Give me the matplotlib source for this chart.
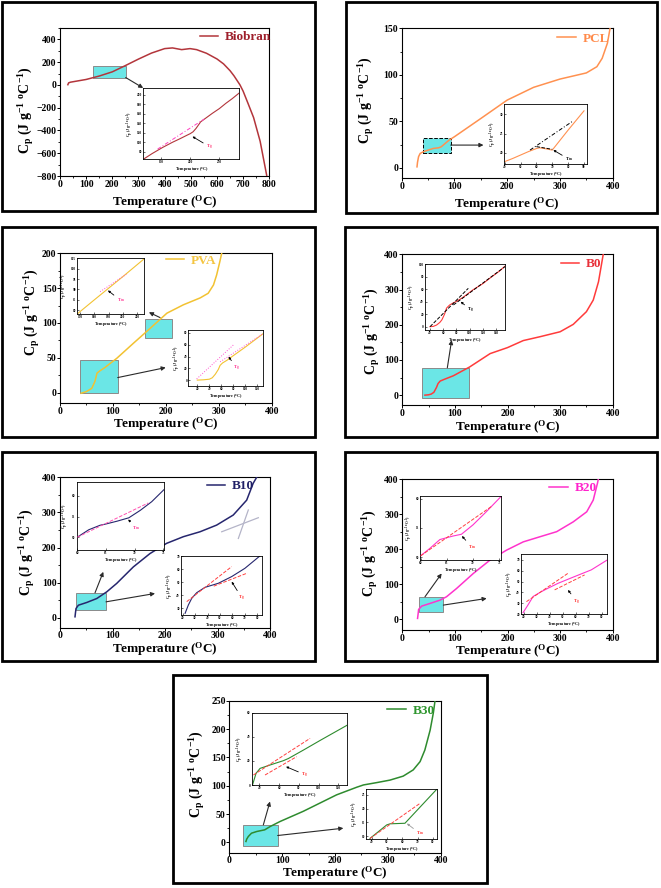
import matplotlib
matplotlib.use('Agg')
import matplotlib.pyplot as plt
from matplotlib.patches import Rectangle
from matplotlib.ticker import AutoMinorLocator

# ------------------------------------------------------------------ data
# Biobran
biobran_T = [30, 33, 40, 60, 100, 150, 200, 250, 300, 350, 400, 430, 465, 497, 522, 560,
             600, 625, 650, 665, 688, 700, 720, 740, 765, 790]
biobran_Cp = [2, 18, 24, 32, 48, 78, 115, 170, 227, 280, 319, 325, 310, 319, 310, 278,
              228, 185, 125, 80, 0, -55, -170, -287, -495, -794]
bio_in_T = [120, 135, 153, 170, 182, 195, 200, 205, 210, 218, 228, 238, 250, 261, 272, 284]
bio_in_Cp = [64, 76, 89, 100, 107, 115, 118, 122, 129, 143, 152, 161, 171, 182, 192, 204]
bio_tan_T = [144.5, 224]
bio_tan_Cp = [85.6, 148.8]

# PCL
pcl_T = [29, 30, 32, 35, 41, 50, 60, 70, 75, 90, 100, 150, 200, 250, 300, 350, 370, 380, 390, 395]
pcl_Cp = [1, 6, 12, 15.4, 17.2, 19, 20.8, 21.5, 22.6, 29.8, 33.4, 53, 72.8, 86.5, 95.4, 102,
          108.7, 117.7, 134, 150]
pcl_in_T = [40, 45, 50, 55, 60, 62, 65, 70, 75, 80, 85, 90]
pcl_in_Cp = [17.7, 18.5, 19.4, 20.3, 21.1, 21.3, 21.1, 20.7, 23.3, 25.9, 28.4, 30.9]
pcl_tan_T = [56, 82.5]
pcl_tan_Cp = [20.7, 28.1]
pcl_tan2_T = [60, 70]
pcl_tan2_Cp = [21.6, 20.9]

# PVA
pva_T = [40, 50, 60, 66, 70, 75, 85, 95, 107, 139, 170, 202, 233, 265, 280, 290, 296, 302, 305.5]
pva_Cp = [-1, 1.4, 6, 16, 28, 31, 36, 42, 49, 71, 92, 114, 126, 136, 142.6, 154.5, 169, 188, 200]
pva_inA_T = [168, 180, 190, 200, 215]
pva_inA_Cp = [78.2, 85, 90.6, 96.2, 104.8]
pva_tanA_T = [184, 202.4]
pva_tanA_Cp = [88.9, 97.3]
pva_inB_T = [20, 30, 40, 45, 50, 55, 58, 62, 70, 80, 100, 130]
pva_inB_Cp = [0, 0.5, 1.5, 4, 10, 18, 25, 29, 34, 41.5, 56, 79]
pva_tanB1_T = [18.9, 80]
pva_tanB1_Cp = [1.9, 59.5]
pva_tanB2_T = [58, 130]
pva_tanB2_Cp = [31, 79]

# B0
b0_T = [43, 50, 55, 60, 65, 68, 72, 80, 97, 128, 167, 200, 230, 262, 300, 325, 350, 363, 373, 382]
b0_Cp = [0, 1, 3, 8, 22, 33, 40, 45, 55, 80, 118, 135, 155, 166, 180, 201, 237, 270, 322, 400]
b0_in_T = [40, 45, 50, 55, 58, 62, 65, 68, 70, 75, 80, 90, 105, 120, 131, 145, 153.6]
b0_in_Cp = [0, 0.5, 2.7, 7, 11, 20, 29.7, 33, 35, 38, 40.5, 47, 59, 69, 78, 89, 97]
b0_tan1_T = [40, 98]
b0_tan1_Cp = [0, 61.5]
b0_tan2_T = [75.4, 153.6]
b0_tan2_Cp = [34.8, 96.3]

# B10
b10_T = [28.6, 29.5, 30.5, 35, 50.8, 70, 89, 108, 139.7, 171.4, 203, 235, 266.7, 298.4, 330,
         355.6, 368, 374.6]
b10_Cp = [3, 15, 26.6, 36, 43.7, 55, 74, 98, 145, 183, 212, 231, 245, 264, 292.6, 335, 383, 400]
b10_g1_T = [308, 377.8]
b10_g1_Cp = [245, 285]
b10_g2_T = [339.7, 358.7]
b10_g2_Cp = [226, 307]
b10_inA_T = [60, 62, 64, 65, 67, 68.5, 69, 71, 73, 75.2]
b10_inA_Cp = [50, 51.8, 52.9, 53.2, 53.9, 54.5, 54.7, 56.5, 58.6, 61.6]
b10_tanA_T = [60, 72.4]
b10_tanA_Cp = [50, 58.3]
b10_inB_T = [22, 24.6, 27.3, 31.3, 38, 48.7, 59.4, 70, 82]
b10_inB_Cp = [26.3, 32.6, 37.7, 42, 46.1, 49.2, 54.3, 60.6, 70]
b10_tanB1_T = [23.3, 59.4]
b10_tanB1_Cp = [35.2, 61.9]
b10_tanB2_T = [45, 72]
b10_tanB2_Cp = [47, 57]

# B20
b20_T = [29, 30, 31, 36.8, 52.6, 71.6, 84, 103, 135, 166.7, 198.4, 230, 261.8, 293.5, 325,
         350.6, 363, 371, 372.7]
b20_Cp = [3, 15, 28.5, 38, 45.6, 55, 64.6, 88, 131, 169, 197.6, 221, 235.6, 250, 278, 306.6,
          340, 387.6, 400]
b20_inA_T = [60, 61.8, 63.7, 66.2, 67.8, 70, 72.6, 75.3]
b20_inA_Cp = [50.2, 51.5, 53, 53.6, 53.9, 55.5, 57.8, 60.3]
b20_tanA_T = [60, 73.6]
b20_tanA_Cp = [50.2, 58.7]
b20_inB_T = [19.6, 23.4, 27.3, 33.7, 38.8, 46.5, 59.3, 72.1, 84]
b20_inB_Cp = [21.5, 28.6, 36.3, 40.8, 43.9, 48.4, 54.6, 60.7, 69.5]
b20_tanB1_T = [22.2, 54.2]
b20_tanB1_Cp = [31.6, 57.6]
b20_tanB2_T = [43.9, 67]
b20_tanB2_Cp = [42.4, 56.1]

# B30
b30_T = [31.5, 33, 36, 42, 52, 67, 77, 96, 140, 203, 241, 254, 279, 304, 329, 348, 361, 370,
         380, 386, 389.3]
b30_Cp = [1.8, 6, 10.6, 16.4, 19.4, 22.3, 28, 37, 55, 84, 97.4, 101.5, 105.6, 110, 117, 128,
          142.6, 163, 198, 228, 250]
b30_inA_T = [33, 36.6, 40.7, 50.8, 64.3, 69.4, 84.6, 101.5, 129]
b30_inA_Cp = [0, 9.7, 13.8, 16.6, 20.2, 22, 29, 37, 49.7]
b30_tanA1_T = [33.9, 91.3]
b30_tanA1_Cp = [8.3, 38.7]
b30_tanA2_T = [45.7, 77.7]
b30_tanA2_Cp = [8.3, 23.5]
b30_inB_T = [38.9, 49.8, 52, 61.7, 82.4]
b30_inB_Cp = [9.2, 14.1, 14.5, 14.7, 27]
b30_tanB_T = [38.9, 71.5]
b30_tanB_Cp = [9.2, 21.9]

# ------------------------------------------------------------------ style
SERIF = ['Liberation Serif', 'DejaVu Serif']
plt.rcParams.update({
    'font.family': SERIF,
    'font.weight': 'bold',
    'axes.labelweight': 'bold',
    'mathtext.fontset': 'custom',
    'mathtext.rm': 'Liberation Serif:bold',
    'mathtext.it': 'Liberation Serif:bold',
    'mathtext.bf': 'Liberation Serif:bold',
})

W, H = 661, 888
fig = plt.figure(figsize=(W / 100, H / 100), dpi=100)
fig.patch.set_facecolor('white')

CYAN = '#6BE6E6'
YLAB = r'C$_{p}$ (J g$^{-1}$ $^{o}$C$^{-1}$)'
XLAB = r'Temperature ($^{O}$C)'


def px_axes(x0, y0, x1, y1, z=1):
    a = fig.add_axes([x0 / W, 1 - y1 / H, (x1 - x0) / W, (y1 - y0) / H])
    a.set_zorder(z)
    return a


def frame(x0, y0, x1, y1):
    fig.add_artist(Rectangle((x0 / W, 1 - y1 / H), (x1 - x0) / W, (y1 - y0) / H,
                             transform=fig.transFigure, fill=False, lw=2.0, ec='black'))


def main_panel(rect, T, Cp, color, name, tcolor, xlim, ylim, xticks, yticks,
               leg_xy, ylab_px, xlab_py):
    x0, y0, x1, y1 = rect
    ax = px_axes(*rect)
    ax.plot(T, Cp, color=color, lw=1.1, label=name, zorder=3)
    ax.set_xlim(xlim)
    ax.set_ylim(ylim)
    ax.set_xticks(xticks)
    ax.set_yticks(yticks)
    ax.xaxis.set_minor_locator(AutoMinorLocator(2))
    ax.yaxis.set_minor_locator(AutoMinorLocator(2))
    ax.tick_params(which='major', direction='out', length=2.2, width=0.7, labelsize=7, pad=0.4)
    ax.tick_params(which='minor', direction='out', length=1.3, width=0.6)
    for s in ax.spines.values():
        s.set_linewidth(0.8)
    for lab in ax.get_xticklabels() + ax.get_yticklabels():
        lab.set_fontweight('bold')
    leg = ax.legend(loc='center left', bbox_to_anchor=leg_xy, frameon=False,
                    handlelength=1.4, handletextpad=0.5, borderaxespad=0, borderpad=0,
                    prop={'family': SERIF, 'weight': 'bold', 'size': 9.5})
    for t in leg.get_texts():
        t.set_color(tcolor)
    # axis labels positioned in pixels
    fig.text(ylab_px[0] / W, 1 - ylab_px[1] / H, YLAB, rotation=90, ha='center', va='center',
             fontsize=10, fontweight='bold')
    fig.text((x0 + x1) / 2 / W, 1 - (xlab_py + 5.5) / H, XLAB, ha='center', va='baseline',
             fontsize=9.5, fontweight='bold')
    return ax


def box(ax, xr, yr, ec='#8a8a8a', ls='-'):
    ax.add_patch(Rectangle((xr[0], yr[0]), xr[1] - xr[0], yr[1] - yr[0], facecolor=CYAN,
                           edgecolor=ec, lw=0.7, ls=ls, zorder=2))


def arrow(ax, tail, head, color='#2a2a2a'):
    ax.annotate('', xy=head, xytext=tail, annotation_clip=False,
                arrowprops=dict(arrowstyle='-|>', color=color, lw=0.8, mutation_scale=6,
                                shrinkA=0, shrinkB=0), zorder=4)


def inset(rect, T, Cp, color, xlim, ylim, xticks, yticks):
    a = px_axes(*rect, z=5)
    a.set_facecolor('white')
    a.plot(T, Cp, color=color, lw=0.8, zorder=2)
    a.set_xlim(xlim)
    a.set_ylim(ylim)
    a.set_xticks(xticks)
    a.set_yticks(yticks)
    a.tick_params(direction='in', length=1.2, width=0.4, labelsize=2.4, pad=0.8)
    for s in a.spines.values():
        s.set_linewidth(0.6)
    a.set_xlabel(r'Temperature ($^{o}$C)', fontsize=3.0, labelpad=0.6)
    a.set_ylabel(r'C$_{p}$ (J g$^{-1}$ $^{o}$C$^{-1}$)', fontsize=2.8, labelpad=0.6)
    return a


def tangent(a, T, Cp, color, ls):
    a.plot(T, Cp, color=color, lw=0.7, ls=ls, zorder=3)


def mark(a, text, tail, head, tcolor, acolor='black'):
    a.annotate(text, xy=head, xytext=tail, fontsize=3.5, color=tcolor, ha='left', va='top',
               arrowprops=dict(arrowstyle='-|>', color=acolor, lw=0.6, mutation_scale=3,
                               shrinkA=0, shrinkB=0))


# ------------------------------------------------------------------ frames
frame(2, 2, 315, 211)
frame(346, 2, 657, 213)
frame(2, 227, 315, 437)
frame(345, 227, 657, 437)
frame(2, 452, 315, 661)
frame(345, 452, 657, 661)
frame(173, 675, 487, 883)

# ------------------------------------------------------------------ Biobran
ax = main_panel((60, 28, 269.3, 176), biobran_T, biobran_Cp, '#B3353B', 'Biobran', '#9E1F2B',
                (0, 800), (-800, 500), range(0, 801, 100), range(-800, 401, 200),
                (0.669, 0.939), (26, 110), 200)
box(ax, (127, 251), (65, 170))
arrow(ax, (251, 65), (318, -27))
a = inset((143.3, 87.7, 239.3, 159.3), bio_in_T, bio_in_Cp, '#B3353B', (120, 284), (64, 215),
          [150, 200, 250], range(80, 201, 20))
tangent(a, bio_tan_T, bio_tan_Cp, '#FF40C0', (0, (4, 2, 1, 2)))
mark(a, r'T$_g$', (227, 100), (204, 112), '#FF3070')

# ------------------------------------------------------------------ PCL
ax = main_panel((401.7, 28.3, 612.7, 178), pcl_T, pcl_Cp, '#FF9150', 'PCL', '#FF8A4A',
                (0, 400), (-11, 150), range(0, 401, 100), range(0, 151, 50),
                (0.738, 0.929), (366, 100), 201.7)
box(ax, (40, 93), (16, 32), ec='black', ls='--')
arrow(ax, (93, 24.4), (155, 24.4))
a = inset((504, 104.3, 586.7, 164.3), pcl_in_T, pcl_in_Cp, '#FF9150', (39.6, 91.7), (17, 32.6),
          range(40, 91, 10), [20, 25, 30])
tangent(a, pcl_tan_T, pcl_tan_Cp, 'black', (0, (4, 2, 1, 2)))
tangent(a, pcl_tan2_T, pcl_tan2_Cp, 'black', '--')
mark(a, r'T$_m$', (78, 19.3), (70.7, 20.7), 'black')

# ------------------------------------------------------------------ PVA
ax = main_panel((60, 253.3, 271.7, 403), pva_T, pva_Cp, '#F2C232', 'PVA', '#F4C542',
                (0, 400), (-15, 200), range(0, 401, 100), range(0, 201, 50),
                (0.499, 0.949), (32.5, 312), 421.7)
box(ax, (38, 109), (-1, 47))
box(ax, (160.6, 212), (78, 105))
arrow(ax, (109, 21.5), (199.7, 35.9))
arrow(ax, (189, 107.7), (168, 115.3))
a = inset((77.3, 258.3, 144.3, 314.3), pva_inA_T, pva_inA_Cp, '#F2C232', (168, 215), (78, 105),
          range(170, 211, 10), range(80, 106, 5))
tangent(a, pva_tanA_T, pva_tanA_Cp, '#FF50D0', ':')
mark(a, r'T$_m$', (195.6, 86.5), (189.5, 89.5), '#FF3090')
a = inset((188.3, 330, 263.3, 386), pva_inB_T, pva_inB_Cp, '#F2C232', (5, 130), (-10, 85),
          range(20, 121, 20), range(0, 81, 20))
tangent(a, pva_tanB1_T, pva_tanB1_Cp, '#FF50D0', ':')
tangent(a, pva_tanB2_T, pva_tanB2_Cp, '#FF50D0', ':')
mark(a, r'T$_g$', (80, 28.4), (72, 39.7), '#FF3090')

# ------------------------------------------------------------------ B0
ax = main_panel((402.3, 254.3, 612.7, 405), b0_T, b0_Cp, '#FF3B3B', 'B0', '#E8303A',
                (0, 400), (-28, 400), range(0, 401, 100), range(0, 401, 100),
                (0.753, 0.934), (372, 331), 425)
box(ax, (36.8, 127.4), (-7.6, 77.7))
arrow(ax, (85.6, 77.7), (93.8, 156.4))
a = inset((425, 264.3, 505, 330), b0_in_T, b0_in_Cp, '#FF3B3B', (32.4, 153.6), (-5.3, 100),
          range(40, 141, 20), range(0, 101, 20))
tangent(a, b0_tan1_T, b0_tan1_Cp, 'black', '--')
tangent(a, b0_tan2_T, b0_tan2_Cp, 'black', '--')
mark(a, r'T$_g$', (96.5, 34.2), (86.4, 40), 'black')

# ------------------------------------------------------------------ B10
ax = main_panel((60, 477.3, 270, 627.7), b10_T, b10_Cp, '#26266E', 'B10', '#1F1F66',
                (0, 400), (-28, 400), range(0, 401, 100), range(0, 401, 100),
                (0.698, 0.942), (27, 552), 646.7)
ax.plot(b10_g1_T, b10_g1_Cp, color='#B4B4C8', lw=0.9, zorder=2)
ax.plot(b10_g2_T, b10_g2_Cp, color='#B4B4C8', lw=0.9, zorder=2)
box(ax, (30.5, 87.6), (22, 71))
arrow(ax, (66.7, 71.3), (82.5, 131))
arrow(ax, (87.6, 45.6), (181, 69.4))
a = inset((76.7, 482.3, 164.3, 550), b10_inA_T, b10_inA_Cp, '#26266E', (59.9, 75.2),
          (46.9, 63.3), [60, 65, 70, 75], [50, 55, 60])
tangent(a, b10_tanA_T, b10_tanA_Cp, '#FF50B0', '--')
mark(a, r'T$_m$', (69.6, 53.1), (68.9, 54.3), '#FF3090')
a = inset((181, 556, 261.7, 615), b10_inB_T, b10_inB_Cp, '#26266E', (18.7, 83.5), (25, 70),
          range(20, 81, 10), range(30, 71, 10))
tangent(a, b10_tanB1_T, b10_tanB1_Cp, '#FF4040', '--')
tangent(a, b10_tanB2_T, b10_tanB2_Cp, '#FF4040', '--')
mark(a, r'T$_g$', (64.7, 41.5), (59.4, 50.4), '#FF3030')

# ------------------------------------------------------------------ B20
ax = main_panel((402.3, 479, 612.7, 630), b20_T, b20_Cp, '#FF33CC', 'B20', '#FF22CC',
                (0, 400), (-30, 400), range(0, 401, 100), range(0, 401, 100),
                (0.699, 0.938), (370, 553), 648.8)
box(ax, (31, 78), (21.8, 64.6))
arrow(ax, (43.1, 64.6), (74.8, 131))
arrow(ax, (78, 40.9), (160.4, 59.9))
a = inset((420, 495.7, 500.7, 560), b20_inA_T, b20_inA_Cp, '#FF33CC', (59.9, 75.3), (49.5, 60.5),
          [60, 65, 70, 75], [50, 55, 60])
tangent(a, b20_tanA_T, b20_tanA_Cp, '#FF4040', '--')
mark(a, r'T$_m$', (69, 52.4), (67.9, 53.6), '#FF3030')
a = inset((521, 554.3, 606.7, 614.3), b20_inB_T, b20_inB_Cp, '#FF33CC', (18, 84), (20, 75),
          range(20, 81, 10), range(20, 71, 10))
tangent(a, b20_tanB1_T, b20_tanB1_Cp, '#FF4040', '--')
tangent(a, b20_tanB2_T, b20_tanB2_Cp, '#FF4040', '--')
mark(a, r'T$_g$', (58, 36.2), (54.2, 42.3), '#FF3030')

# ------------------------------------------------------------------ B30
ax = main_panel((229.3, 700.7, 440.7, 852.7), b30_T, b30_Cp, '#2E8B2E', 'B30', '#2E962E',
                (0, 400), (-18, 250), range(0, 401, 100), range(0, 251, 50),
                (0.748, 0.934), (197, 774), 871)
box(ax, (26.5, 91.5), (-5.9, 31))
arrow(ax, (64.4, 31.1), (77, 72.2))
arrow(ax, (91.5, 12.3), (215.8, 25.2))
a = inset((251.7, 712.7, 347.3, 785), b30_inA_T, b30_inA_Cp, '#2E8B2E', (32.2, 129), (0, 60),
          range(40, 121, 20), range(0, 61, 20))
tangent(a, b30_tanA1_T, b30_tanA1_Cp, '#FF4040', '--')
tangent(a, b30_tanA2_T, b30_tanA2_Cp, '#FF4040', '--')
mark(a, r'T$_g$', (82.2, 12.4), (67, 15.2), '#FF3030')
a = inset((366, 789.3, 436.7, 839), b30_inB_T, b30_inB_Cp, '#2E8B2E', (36.3, 82.4), (9, 27),
          range(40, 81, 10), range(10, 26, 5))
tangent(a, b30_tanB_T, b30_tanB_Cp, '#FF4040', '--')
mark(a, r'T$_m$', (69, 12.3), (63, 14.6), '#FF3030', acolor='#999999')

fig.savefig('out.png', dpi=100, facecolor='white')
